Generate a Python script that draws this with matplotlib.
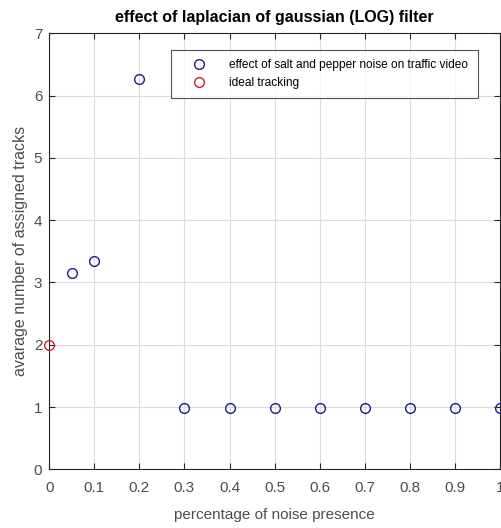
import numpy as np
import matplotlib
matplotlib.use('Agg')
import matplotlib.pyplot as plt

# noise level (fraction) vs average number of assigned tracks
noise = [0.05, 0.1, 0.2, 0.3, 0.4, 0.5, 0.6, 0.7, 0.8, 0.9, 1.0]
tracks = [3.16, 3.35, 6.26, 0.98, 0.98, 0.98, 0.98, 0.98, 0.98, 0.98, 0.98]
ideal_x = [0]
ideal_y = [2]

xticks = [0, 0.1, 0.2, 0.3, 0.4, 0.5, 0.6, 0.7, 0.8, 0.9, 1]
xticklabels = ['0', '0.1', '0.2', '0.3', '0.4', '0.5', '0.6', '0.7', '0.8', '0.9', '1']
yticks = [0, 1, 2, 3, 4, 5, 6, 7]

plt.rcParams['font.family'] = ['Liberation Sans', 'DejaVu Sans']
grey = '#4d4d4d'

fig = plt.figure(figsize=(5.02, 5.28), dpi=100)
ax = fig.add_axes([0.098, 0.111, 0.898, 0.826])

ax.plot(noise, tracks, 'o', mfc='none', mec='#1c1c8c', ms=7, mew=1.0,
        label='effect of salt and pepper noise on traffic video', clip_on=False, zorder=3)
ax.plot(ideal_x, ideal_y, 'o', mfc='none', mec='#d02020', ms=7, mew=1.0,
        label='ideal tracking', clip_on=False, zorder=3)

ax.set_xlim(0, 1)
ax.set_ylim(0, 7)
ax.set_xticks(xticks)
ax.set_xticklabels(xticklabels)
ax.set_yticks(yticks)
ax.grid(True, color='#dcdcdc', linewidth=0.8)
ax.set_axisbelow(True)
ax.tick_params(direction='in', top=True, right=True, length=4, labelsize=11,
               colors='#262626', labelcolor=grey)
ax.tick_params(axis='x', pad=8)
ax.tick_params(axis='y', pad=5)
for s in ax.spines.values():
    s.set_color('#262626')
    s.set_linewidth(0.8)

ax.set_title('effect of laplacian of gaussian (LOG) filter', fontsize=11.5,
             fontweight='bold', pad=8)
ax.set_xlabel('percentage of noise presence', fontsize=11, color=grey, labelpad=10)
ax.set_ylabel('avarage number of assigned tracks', fontsize=11.5, color=grey, labelpad=4)

leg = ax.legend(loc='upper right', bbox_to_anchor=(0.951, 0.962), borderaxespad=0,
                fontsize=8.6, frameon=True, fancybox=False, borderpad=0.8,
                handletextpad=0.9, labelspacing=0.45, handlelength=3.2)
leg.get_frame().set_edgecolor('#262626')
leg.get_frame().set_linewidth(0.8)

plt.savefig('out.png', dpi=100)
